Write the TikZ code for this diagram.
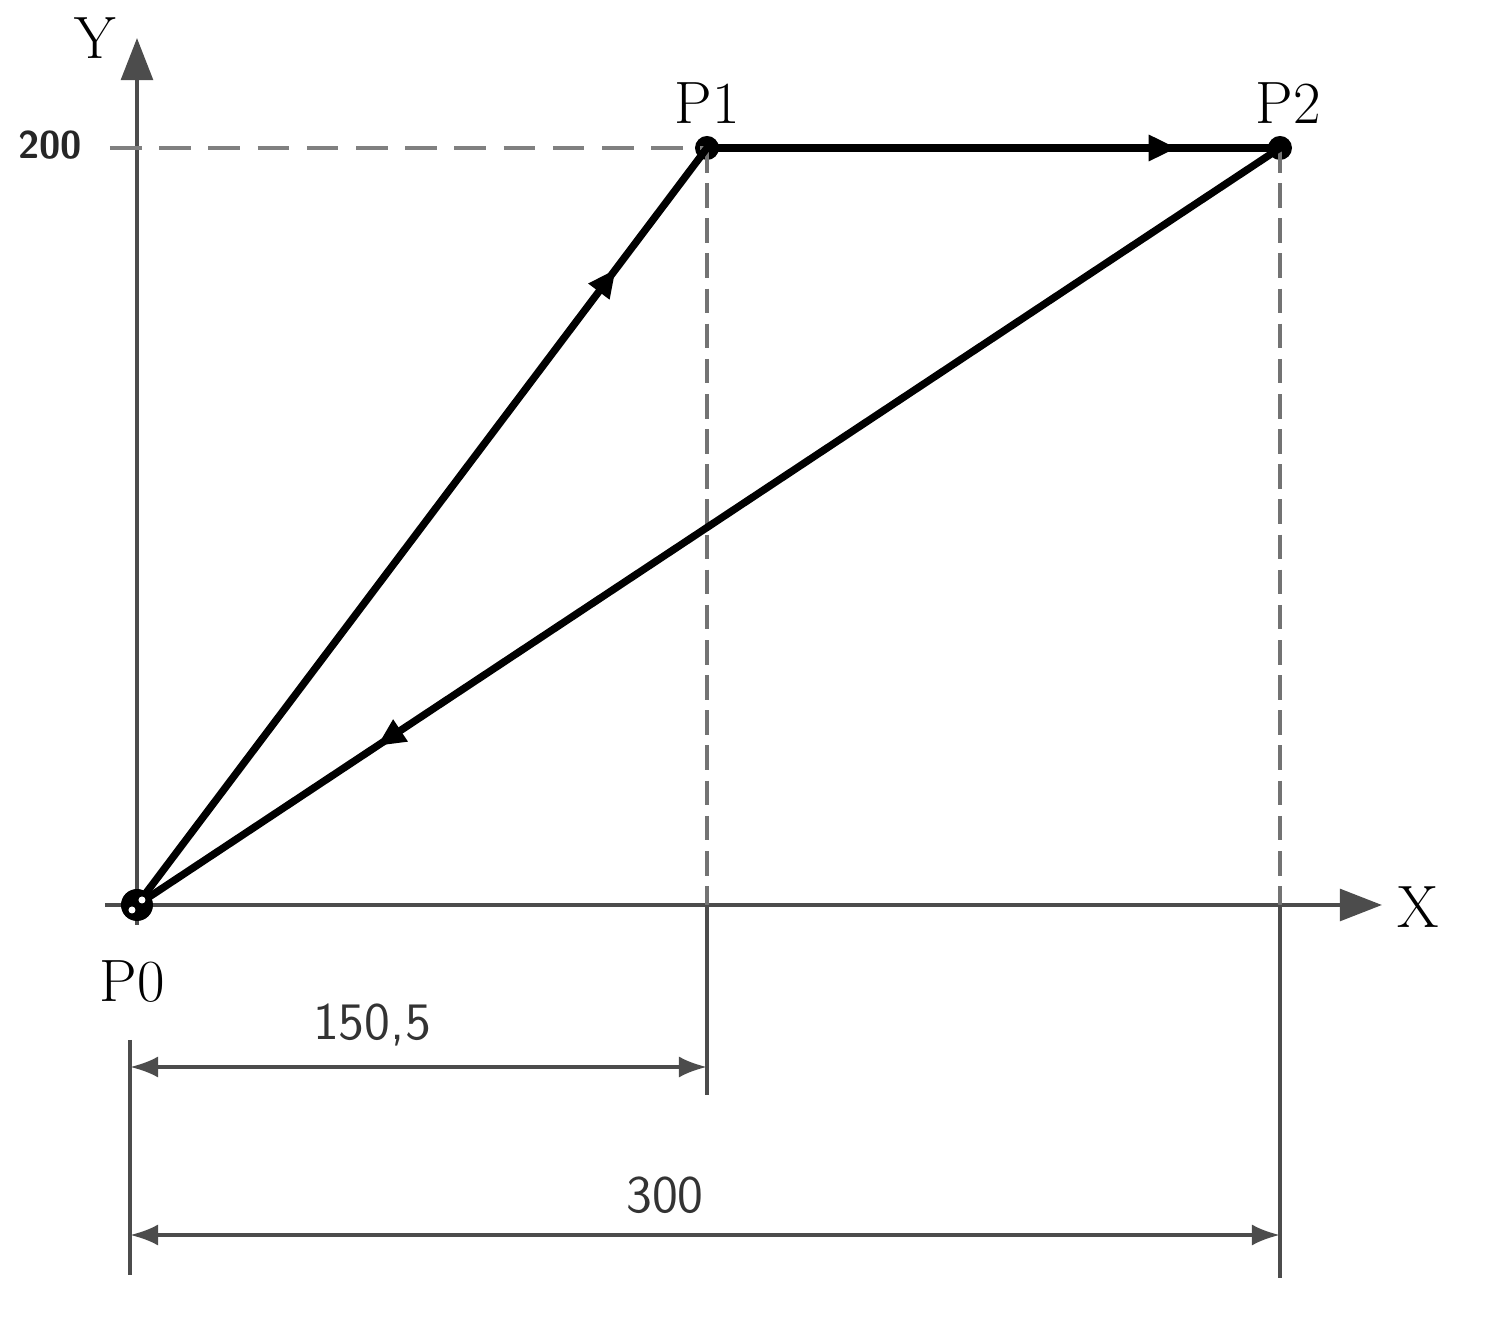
\documentclass[tikz,border=0pt]{standalone}
\usepackage{amsmath}
\usepackage{xcolor}
\usetikzlibrary{arrows.meta, positioning, calc, decorations.markings}

\begin{document}
\begin{tikzpicture}[
  path/.style={line width=2.1pt, line cap=round},
  midarrow/.style={postaction={decorate}, decoration={markings,
      mark=at position #1 with {\arrow{Triangle[length=8pt, width=7pt]}}}},
  axis/.style={draw=black!70, line width=1.2pt, -{Triangle[length=12pt, width=9pt]}},
  guide/.style={draw=black!55, line width=0.9pt, dash pattern=on 7pt off 3pt},
  hguide/.style={draw=black!50, line width=1.2pt, dash pattern=on 9pt off 5pt},
  ext/.style={draw=black!70, line width=1pt},
  dim/.style={draw=black!70, line width=1.1pt,
      {Latex[length=8pt, width=6pt]}-{Latex[length=8pt, width=6pt]}},
  dot/.style={circle, fill=black, inner sep=0pt, minimum size=0.24cm},
  origin/.style={circle, fill=black, inner sep=0pt, minimum size=0.32cm,
      path picture={
        \fill[white] (path picture bounding box.center) ++(0.05,0.05) circle (0.035);
        \fill[white] (path picture bounding box.center) ++(-0.05,-0.05) circle (0.035);}},
  lbl/.style={font=\fontsize{17}{17}\selectfont},
  num/.style={font=\sffamily\fontsize{15}{15}\selectfont, text=black!80},
]
\useasboundingbox (-1.37,-4.34) rectangle (13.63,9.05);

% points of the path
\node[dot] (P1) at (5.70,7.57) {};
\node[dot] (P2) at (11.43,7.57) {};
\coordinate (P0) at (0,0);

% axes
\coordinate (xstart) at (-0.32,0);
\coordinate (xend) at (12.45,0);
\coordinate (ystart) at (0,-0.2);
\coordinate (yend) at (0,8.67);
\draw[axis] (xstart) -- (xend);
\draw[axis] (ystart) -- (yend);
\node[lbl] (xlab) at (12.81,-0.02) {X};
\node[lbl] (ylab) at (-0.42,8.67) {Y};

% guide lines
\coordinate (y200) at (-0.27,7.57);
\node[font=\sffamily\bfseries\fontsize{11}{11}\selectfont, text=black!85] (l200) at (-0.87,7.60) {200};
\draw[hguide] (y200) -- (P1.center);
\draw[guide] (P1.center) -- (P1 |- P0);
\draw[guide] (P2.center) -- (P2 |- P0);

% extension lines
\coordinate (e1) at (5.70,-1.90);
\coordinate (e2) at (11.43,-3.73);
\coordinate (e0top) at (-0.07,-1.35);
\coordinate (e0bot) at (-0.07,-3.70);
\draw[ext] (P1 |- P0) -- (e1);
\draw[ext] (P2 |- P0) -- (e2);
\draw[ext] (e0top) -- (e0bot);

% dimensions
\draw[dim] (-0.07,-1.62) -- (5.70,-1.62);
\draw[dim] (-0.07,-3.30) -- (11.43,-3.30);
\node[num] (d1) at (2.35,-1.20) {150,5};
\node[num] (d2) at (5.28,-2.90) {300};

% travel path
\draw[path, midarrow=0.84] (P0) -- (P1.center);
\draw[path, midarrow=0.82] (P1.center) -- (P2.center);
\draw[path, midarrow=0.79] (P2.center) -- (P0);
\node[origin] (P0m) at (P0) {};

% point labels
\node[lbl] (l0) at (-0.05,-0.77) {P0};
\node[lbl] (l1) at (5.70,8.02) {P1};
\node[lbl] (l2) at (11.51,8.02) {P2};
\end{tikzpicture}
\end{document}
